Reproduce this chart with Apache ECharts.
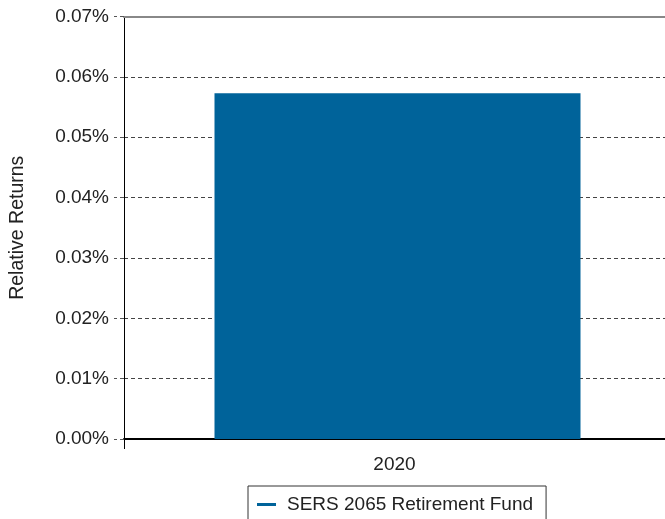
<!DOCTYPE html>
<html><head><meta charset="utf-8">
<script src="https://cdn.jsdelivr.net/npm/echarts@6/dist/echarts.min.js"></script>
<style>html,body{margin:0;padding:0;background:#fff}#c{width:665px;height:519px}</style>
</head><body><div id="c"></div>
<script>
const categories = ['2020'];
const seriesName = 'SERS 2065 Retirement Fund';
const values = [0.0573];
const yMin = 0, yMax = 0.07, yInterval = 0.01;

const chart = echarts.init(document.getElementById('c'));
chart.setOption({
  animation: false,
  textStyle: { fontFamily: 'Liberation Sans, Arial, sans-serif' },
  grid: { left: 123, right: 0, top: 16.5, bottom: 80 },
  xAxis: [{
    type: 'category', data: categories, boundaryGap: true,
    axisLine: { lineStyle: { color: '#000', width: 2 } },
    axisTick: { show: true, length: 10, lineStyle: { color: '#000' } },
    axisLabel: { color: '#222', fontSize: 19, margin: 16 }
  }, {
    type: 'category', data: categories, position: 'top',
    axisLine: { lineStyle: { color: '#888', width: 2 } },
    axisTick: { show: false }, axisLabel: { show: false }
  }],
  yAxis: {
    type: 'value', min: yMin, max: yMax, interval: yInterval,
    name: 'Relative Returns', nameLocation: 'middle', nameGap: 96, nameRotate: 90,
    nameTextStyle: { color: '#222', fontSize: 19.5 },
    axisLine: { show: true, lineStyle: { color: '#000' } },
    axisTick: { show: true, length: 10, lineStyle: { color: '#555', type: [4, 3] } },
    axisLabel: { color: '#222', fontSize: 19, margin: 15, formatter: v => v.toFixed(2) + '%' },
    splitLine: { show: true, lineStyle: { color: '#444', type: [4, 3] } }
  },
  legend: {
    left: 248, top: 486,
    padding: [9, 13, 12, 9],
    borderColor: '#333', borderWidth: 1,
    itemWidth: 19, itemHeight: 3, itemGap: 10, icon: 'rect',
    textStyle: { color: '#222', fontSize: 19, padding: [0, 0, 0, 6] },
    data: [seriesName]
  },
  series: [{
    name: 'spacer', type: 'bar', data: [null], barWidth: 6, barGap: 0,
    itemStyle: { color: 'transparent' }, silent: true
  }, {
    name: seriesName, type: 'bar', data: values, barWidth: 366, barGap: 0,
    itemStyle: { color: '#00639A' }
  }]
});
</script></body></html>
